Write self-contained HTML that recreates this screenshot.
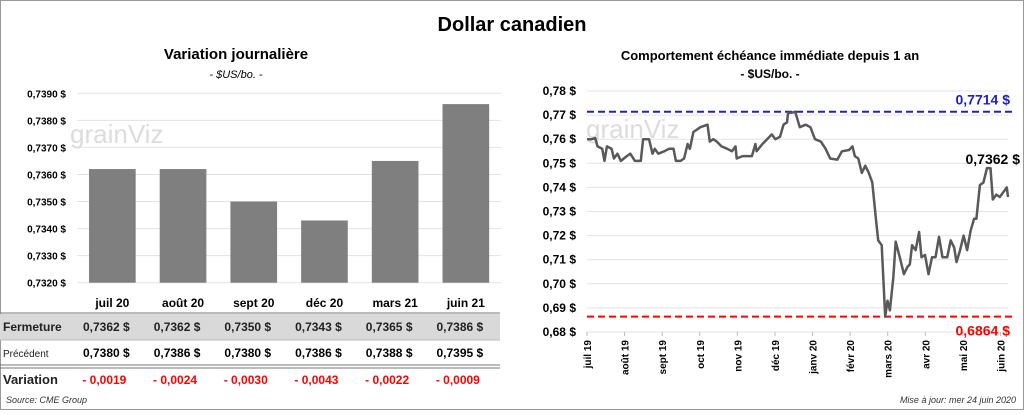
<!DOCTYPE html>
<html><head><meta charset="utf-8">
<style>
body{margin:0;width:1024px;height:410px;background:#fff;font-family:"Liberation Sans",sans-serif;overflow:hidden}
svg text{font-family:"Liberation Sans",sans-serif}
</style></head><body>
<svg id="s" width="1024" height="410">
<rect x="0.5" y="0.5" width="1023" height="409" fill="#fff" stroke="#999"/>
<text x="512" y="31" text-anchor="middle" font-size="20" font-weight="bold">Dollar canadien</text>
<text x="236" y="59" text-anchor="middle" font-size="15" font-weight="bold">Variation  journalière</text>
<text x="236" y="78" text-anchor="middle" font-size="11" font-style="italic">- $US/bo. -</text>
<text x="770" y="60" text-anchor="middle" font-size="13" font-weight="bold">Comportement échéance immédiate depuis 1 an</text>
<text x="770" y="78" text-anchor="middle" font-size="12" font-weight="bold">- $US/bo. -</text>
<g id="left"></g>
<g id="tbl"></g>
<g id="right"></g>
<text x="6" y="403" font-size="9" font-style="italic" fill="#333">Source: CME Group</text>
<text x="1016" y="403" text-anchor="end" font-size="9" font-style="italic" fill="#333">Mise à jour: mer 24 juin 2020</text>
</svg>
<script>
const NS="http://www.w3.org/2000/svg";
const barCats=["juil 20","août 20","sept 20","déc 20","mars 21","juin 21"];
const barClose=[0.7362,0.7362,0.7350,0.7343,0.7365,0.7386];
const barPrev=[0.7380,0.7386,0.7380,0.7386,0.7388,0.7395];
const barVar=[-0.0019,-0.0024,-0.0030,-0.0043,-0.0022,-0.0009];
const barTicks=[0.7320,0.7330,0.7340,0.7350,0.7360,0.7370,0.7380,0.7390];
const lineDays=[0,4,7,9,13,15,17,21,23,26,29,34,37,41,46,48,53,56,58,61,66,70,74,76,80,83,86,88,91,97,103,105,108,111,115,120,124,127,128,133,137,141,144,145,150,154,158,161,165,168,171,172,175,178,182,187,191,195,200,204,208,214,218,224,227,229,232,235,238,241,244,247,249,252,255,257,259,262,264,268,271,274,276,278,281,284,286,289,292,295,298,301,304,308,311,314,316,319,322,325,328,331,333,336,339,342,345,347,350,353,356,359,360];
const lineVals=[0.760,0.760,0.7605,0.757,0.756,0.751,0.757,0.756,0.752,0.754,0.751,0.753,0.754,0.751,0.751,0.760,0.760,0.754,0.756,0.754,0.755,0.756,0.756,0.751,0.751,0.752,0.758,0.756,0.763,0.765,0.766,0.759,0.760,0.759,0.757,0.756,0.755,0.757,0.752,0.753,0.753,0.753,0.758,0.755,0.758,0.760,0.762,0.760,0.761,0.766,0.767,0.771,0.771,0.7714,0.765,0.766,0.765,0.760,0.759,0.756,0.752,0.7515,0.755,0.7555,0.757,0.753,0.752,0.746,0.749,0.746,0.742,0.727,0.718,0.716,0.6864,0.693,0.689,0.703,0.7175,0.710,0.704,0.707,0.708,0.716,0.714,0.7215,0.711,0.712,0.704,0.711,0.711,0.7195,0.711,0.711,0.718,0.715,0.709,0.714,0.720,0.714,0.722,0.727,0.727,0.741,0.742,0.748,0.748,0.735,0.737,0.736,0.738,0.740,0.736];
const lineTicks=[0.68,0.69,0.70,0.71,0.72,0.73,0.74,0.75,0.76,0.77,0.78];
const monthLabels=["juil 19","août 19","sept 19","oct 19","nov 19","déc 19","janv 20","févr 20","mars 20","avr 20","mai 20","juin 20"];
const hiVal=0.7714, loVal=0.6864, lastVal=0.7362;

function mk(p,tag,at,txt){const e=document.createElementNS(NS,tag);for(const k in at)e.setAttribute(k,at[k]);if(txt!==undefined)e.textContent=txt;p.appendChild(e);return e;}
const fmt4=v=>v.toFixed(4).replace('.',',');
const fmt2=v=>v.toFixed(2).replace('.',',');

const L=document.getElementById('left');
const ly=v=>282.7-(v-0.7320)/(0.0070)*189.4;
const lx0=77,lbw=70.7;
barTicks.forEach(t=>{
 const g=mk(L,'line',{x1:lx0,x2:501,y1:ly(t),y2:ly(t),stroke:'#e3e3e3','stroke-width':1});
 
 
 const tx=mk(L,'text',{x:66,y:ly(t)+4,'text-anchor':'end','font-size':10,'font-weight':'bold'},fmt4(t)+' $');
 
 
});
const wm=mk(L,'text',{x:70,y:143,'font-size':26,fill:'#dcdcdc'},'grainViz');


barClose.forEach((v,i)=>{
 const x=lx0+lbw*i+lbw*0.17;
 const r=mk(L,'rect',{x:x,y:ly(v),width:lbw*0.66,height:282.7-ly(v),fill:'#7f7f7f'});
 
 
});

const T=document.getElementById('tbl');
const rb=mk(T,'rect',{x:0,y:314,width:500,height:26,fill:'#d9d9d9'});


[[313,'#777',1],[340,'#bbb',1],[365,'#777',1],[368,'#777',1]].forEach(a=>{
 const l=mk(T,'line',{x1:0,x2:500,y1:a[0],y2:a[0],stroke:a[1],'stroke-width':a[2]});
 
 
});
const rowLab=[['Fermeture',331,12,'bold'],['Précédent',357,10,'normal'],['Variation',384,13,'bold']];
rowLab.forEach(r=>{const t=mk(T,'text',{x:3,y:r[1],'font-size':r[2],'font-weight':r[3],fill:'#222'},r[0]);
 
 });
barCats.forEach((c,i)=>{
 const cx=lx0+lbw*i+lbw/2;
 let t=mk(T,'text',{x:cx,y:307,'text-anchor':'middle','font-size':12,'font-weight':'bold'},c);
 
 
 t=mk(T,'text',{x:cx-6,y:331,'text-anchor':'middle','font-size':12,'font-weight':'bold',fill:'#222'},fmt4(barClose[i])+'  $');
 
 
 t=mk(T,'text',{x:cx-6,y:357,'text-anchor':'middle','font-size':12,'font-weight':'bold'},fmt4(barPrev[i])+'  $');
 
 
 t=mk(T,'text',{x:cx-8,y:384,'text-anchor':'middle','font-size':12,'font-weight':'bold',fill:'#f00'},'- '+fmt4(Math.abs(barVar[i])));
 
 
});

const R=document.getElementById('right');
const ry=v=>332-(v-0.68)/0.10*241;
const rx=d=>587+d/360*421;
lineTicks.forEach(t=>{
 const g=mk(R,'line',{x1:587,x2:1008,y1:ry(t),y2:ry(t),stroke:'#e3e3e3','stroke-width':1});
 
 
 const tx=mk(R,'text',{x:576,y:ry(t)+4,'text-anchor':'end','font-size':12,'font-weight':'bold'},fmt2(t)+' $');
 
 
});
const wm2=mk(R,'text',{x:586,y:138,'font-size':26,fill:'#dcdcdc'},'grainViz');


const mStep=(1008-587)/11.2;
monthLabels.forEach((m,i)=>{
 const x=587+i*mStep;
 const tk=mk(R,'line',{x1:x,x2:x,y1:332,y2:336,stroke:'#bbb'});
 
 
 const t=mk(R,'text',{transform:`translate(${x+4},340) rotate(-90)`,'text-anchor':'end','font-size':10,'font-weight':'bold'},m);
 
 
});
const hl=mk(R,'line',{x1:587,x2:1012,y1:ry(hiVal),y2:ry(hiVal),stroke:'#2020c0','stroke-width':2,'stroke-dasharray':'7,4'});


const ll=mk(R,'line',{x1:587,x2:1012,y1:ry(loVal),y2:ry(loVal),stroke:'#f00','stroke-width':2,'stroke-dasharray':'7,4'});


let t=mk(R,'text',{x:1010,y:ry(hiVal)-7,'text-anchor':'end','font-size':14,'font-weight':'bold',fill:'#2020c0'},fmt4(hiVal)+' $');


t=mk(R,'text',{x:1010,y:ry(loVal)+19,'text-anchor':'end','font-size':14,'font-weight':'bold',fill:'#f00'},fmt4(loVal)+' $');


const pts=lineDays.map((d,i)=>rx(d).toFixed(1)+','+ry(lineVals[i]).toFixed(1)).join(' ');
const pl=mk(R,'polyline',{points:pts,fill:'none',stroke:'#595959','stroke-width':2.5,'stroke-linejoin':'round'});


t=mk(R,'text',{x:1020,y:164,'text-anchor':'end','font-size':14,'font-weight':'bold'},fmt4(lastVal)+' $');


</script>
</body></html>
